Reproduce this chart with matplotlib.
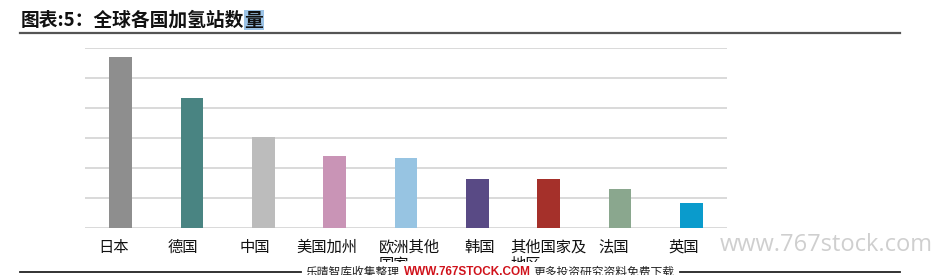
import matplotlib
matplotlib.use("Agg")
import matplotlib.pyplot as plt
from matplotlib.lines import Line2D
from matplotlib.patches import Rectangle
from matplotlib.text import Annotation
import matplotlib.transforms as mtransforms

plt.rcParams['font.family'] = ['Noto Sans CJK SC', 'DejaVu Sans']

# ---- data ----
categories = ["日本", "德国", "中国", "美国加州", "欧洲其他\n国家", "韩国", "其他国家及\n地区", "法国", "英国"]
values = [114, 87, 61, 48, 47, 33, 33, 26, 17]
bar_colors = ["#8e8e8e", "#498482", "#bcbcbc", "#c994b6", "#97c4e2",
              "#594a85", "#a5302a", "#8aa78e", "#0a9bcc"]
yticks = [0, 20, 40, 60, 80, 100, 120]
title = "图表:5：全球各国加氢站数"
title_last = "量"
watermark = "www.767stock.com"
footer_left = "乐晴智库收集整理"
footer_mid = "WWW.767STOCK.COM"
footer_right = "更多投资研究资料免费下载"

W, H = 941, 275
fig = plt.figure(figsize=(W / 100, H / 100), dpi=100)

def fx(px):
    return px / W

def fy(py):
    return 1 - py / H

ax = fig.add_axes([fx(85), fy(228.3), fx(727) - fx(85), fy(48.3) - fy(228.3)])
x = range(len(categories))
ax.bar(x, values, width=0.315, color=bar_colors, zorder=3)
ax.set_xlim(-0.5, len(categories) - 0.5)
ax.set_ylim(yticks[0], yticks[-1])
ax.set_yticks(yticks)
ax.yaxis.grid(True, color="#d9d9d9", linewidth=1.4, zorder=0)
ax.tick_params(axis='y', left=False, labelleft=False)
ax.tick_params(axis='x', bottom=False, pad=4, labelsize=11, labelcolor="#111111")
for s in ax.spines.values():
    s.set_visible(False)
ax.set_xticks(list(x))
ax.set_xticklabels(categories, multialignment='left', linespacing=1.0)
label_shift_px = [-7, -9, -9, -8, 3, 2, 0, -6, -8]
for lab, dx in zip(ax.get_xticklabels(), label_shift_px):
    lab.set_transform(lab.get_transform() + mtransforms.ScaledTranslation(dx / 100, 0, fig.dpi_scale_trans))

# title
t = fig.text(fx(21), fy(25.5), title, fontsize=13.5, fontweight='heavy', color="#111111",
             va='baseline', ha='left')
a_last = Annotation(title_last, xy=(1, 0), xycoords=t, va='bottom', ha='left',
                    fontsize=13.5, fontweight='heavy', color="#111111",
                    bbox=dict(boxstyle='square,pad=0.02', fc="#9cc3e6", ec='none'),
                    annotation_clip=False)
fig.add_artist(a_last)
fig.add_artist(Line2D([fx(20), fx(900)], [fy(33), fy(33)], color="#555555", linewidth=1.6))

# watermark
fig.text(fx(720), fy(245), watermark, fontsize=17, color="#cfcfcf",
         family=['Open Sans', 'DejaVu Sans'], va='center', ha='left')

# cover band (hides lower part of wrapped labels)
fig.add_artist(Rectangle((0, 0), 1, fy(262), transform=fig.transFigure,
                         facecolor='white', edgecolor='none', zorder=10))

# footer
fig.add_artist(Line2D([fx(20), fx(301)], [fy(272), fy(272)], color="#222222", linewidth=1.3, zorder=11))
fig.add_artist(Line2D([fx(680), fx(900)], [fy(272), fy(272)], color="#222222", linewidth=1.3, zorder=11))
f1 = fig.text(fx(306), fy(266), footer_left, fontsize=8.5, color="#222222",
              va='top', ha='left', zorder=12)
f2 = Annotation(footer_mid, xy=(1, 1), xycoords=f1, xytext=(3, 0), textcoords='offset points',
                va='top', ha='left', fontsize=8.5, fontweight='bold', color="#d0121b",
                family=['Liberation Sans', 'DejaVu Sans'], annotation_clip=False, zorder=12)
fig.add_artist(f2)
f3 = Annotation(footer_right, xy=(1, 1), xycoords=f2, xytext=(2, 0), textcoords='offset points',
                va='top', ha='left', fontsize=8.5, color="#222222", annotation_clip=False, zorder=12)
fig.add_artist(f3)

fig.savefig("out.png", dpi=100)
